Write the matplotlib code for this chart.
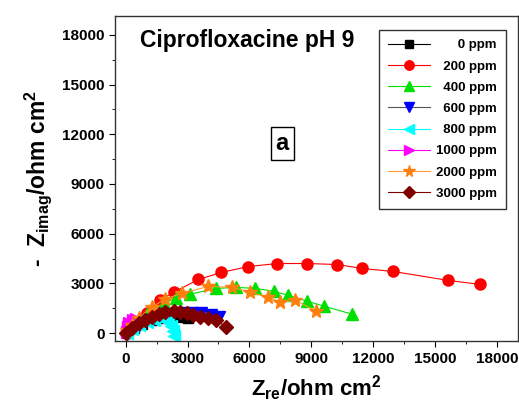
import numpy as np
import matplotlib
matplotlib.use('Agg')
from matplotlib import pyplot as plt

plt.rcParams['font.family'] = 'Liberation Sans'
plt.rcParams['font.weight'] = 'bold'
plt.rcParams['mathtext.fontset'] = 'custom'
plt.rcParams['mathtext.rm'] = 'Liberation Sans:bold'
plt.rcParams['mathtext.it'] = 'Liberation Sans:bold'
plt.rcParams['mathtext.bf'] = 'Liberation Sans:bold'

# Nyquist data (Zre, -Zimag) in ohm cm2
labels = ['0 ppm', '200 ppm', '400 ppm', '600 ppm', '800 ppm', '1000 ppm', '2000 ppm', '3000 ppm']

zre_0 = [50, 387, 774, 1258, 1742, 2226, 2613, 3000]
zim_0 = [0, 300, 540, 780, 900, 960, 960, 900]

zre_200 = [50, 290, 580, 1016, 1645, 2323, 3532, 4645, 5952, 7355, 8806, 10258, 11468, 12968, 15629, 17177]
zim_200 = [0, 300, 660, 1200, 1980, 2460, 3240, 3660, 4020, 4200, 4200, 4140, 3900, 3720, 3180, 2940]

zre_400 = [50, 530, 1016, 1839, 2419, 3097, 4403, 5371, 6290, 7210, 7887, 8806, 9629, 10984]
zim_400 = [120, 660, 1140, 1800, 2100, 2340, 2700, 2760, 2700, 2520, 2280, 1920, 1620, 1140]

zre_600 = [50, 290, 630, 1016, 1500, 1984, 2613, 3194, 3677, 4161, 4548]
zim_600 = [-60, 180, 480, 780, 1020, 1140, 1200, 1200, 1200, 1080, 960]

zre_800 = [50, 290, 630, 1016, 1355, 1742, 2032, 2177, 2274, 2323]
zim_800 = [0, 240, 480, 660, 780, 840, 720, 420, 120, -180]

zre_1000 = [50, 100, 190, 340, 530]
zim_1000 = [60, 360, 600, 780, 840]

zre_2000 = [50, 290, 630, 1258, 1887, 2710, 4016, 5177, 6048, 6919, 7500, 8226, 9242]
zim_2000 = [180, 480, 900, 1560, 2040, 2400, 2820, 2760, 2460, 2160, 1860, 1980, 1320]

zre_3000 = [0, 290, 630, 920, 1258, 1597, 1887, 2323, 2613, 2952, 3290, 3581, 4016, 4403, 4887]
zim_3000 = [0, 300, 600, 780, 960, 1140, 1260, 1320, 1260, 1200, 1080, 960, 900, 780, 360]

xs = [zre_0, zre_200, zre_400, zre_600, zre_800, zre_1000, zre_2000, zre_3000]
ys = [zim_0, zim_200, zim_400, zim_600, zim_800, zim_1000, zim_2000, zim_3000]

markers = ['s', 'o', '^', 'v', '<', '>', '*', 'D']
mcolors = ['black', 'red', '#00e000', 'blue', 'cyan', 'magenta', '#ff7f0e', '#800000']
lcolors = ['black', 'red', '#00e000', '#555555', 'cyan', 'magenta', '#ff9933', '#800000']
msizes = [6.5, 8, 8, 8, 8, 8, 10, 7]

fig = plt.figure(figsize=(5.19, 4.08), dpi=100)
ax = fig.add_axes([0.222, 0.164, 0.776, 0.797])

for x, y, lab, m, mc, lc, ms in zip(xs, ys, labels, markers, mcolors, lcolors, msizes):
    # pad with spaces (2 spaces = 1 digit) so the legend labels line up on the right
    pad = ' ' * (2 * (8 - len(lab)))
    ax.plot(x, y, color=lc, lw=0.8, marker=m, markersize=ms,
            markerfacecolor=mc, markeredgecolor=mc, label=pad + lab)

ax.set_xlim(-500, 19000)
ax.set_ylim(-480, 19140)
ax.set_xticks(np.arange(0, 18001, 3000))
ax.set_yticks(np.arange(0, 18001, 3000))
ax.set_xticks(np.arange(1500, 18001, 3000), minor=True)
ax.set_yticks(np.arange(1500, 18001, 3000), minor=True)
ax.tick_params(which='both', direction='out', labelsize=11)
ax.tick_params(which='major', length=4)
ax.tick_params(which='minor', length=2.5)
for lbl in ax.get_xticklabels() + ax.get_yticklabels():
    lbl.set_fontweight('bold')
for s in ax.spines.values():
    s.set_linewidth(1.0)
    s.set_color('#333333')

ax.set_xlabel(r'Z$_{\mathrm{re}}$/ohm cm$^{\mathrm{2}}$', fontsize=16, fontweight='bold', labelpad=6)
ax.set_ylabel(r'-  Z$_{\mathrm{imag}}$/ohm cm$^{\mathrm{2}}$', fontsize=16.5, fontweight='bold', labelpad=6)

ax.text(0.062, 0.925, 'Ciprofloxacine pH 9', transform=ax.transAxes, fontsize=16.5, fontweight='bold', va='center')
ax.text(0.415, 0.607, 'a', transform=ax.transAxes, fontsize=17, fontweight='bold', ha='center', va='center',
        bbox=dict(boxstyle='square,pad=0.2', fc='white', ec='black', lw=1))

leg = ax.legend(loc='upper right', bbox_to_anchor=(0.97, 0.957), borderaxespad=0, fontsize=9.5,
                frameon=True, fancybox=False, edgecolor='black', handlelength=3.2, labelspacing=0.68,
                handletextpad=0.4, markerscale=0.85, borderpad=0.7)
leg.get_frame().set_linewidth(1.0)
for t in leg.get_texts():
    t.set_fontweight('bold')

fig.savefig('out.png', dpi=100)
